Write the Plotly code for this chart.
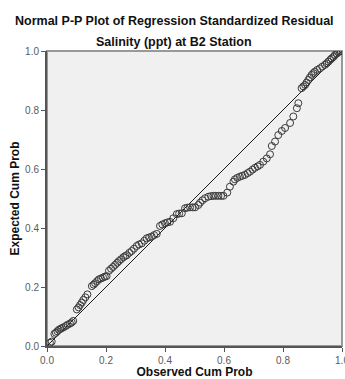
import plotly.graph_objects as go

# Observed cumulative probability (x) and expected cumulative probability (y)
observed_cum_prob = [
    0.010, 0.016, 0.025, 0.030, 0.035, 0.040, 0.046, 0.051, 0.057, 0.064,
    0.070, 0.078, 0.084, 0.089, 0.101, 0.107, 0.112, 0.118, 0.123, 0.130,
    0.137, 0.152, 0.158, 0.163, 0.170, 0.176, 0.183, 0.190, 0.196, 0.202,
    0.210, 0.217, 0.224, 0.231, 0.238, 0.244, 0.251, 0.259, 0.265, 0.271,
    0.279, 0.287, 0.295, 0.304, 0.312, 0.321, 0.330, 0.338, 0.346, 0.355,
    0.363, 0.372, 0.383, 0.391, 0.400, 0.408, 0.417, 0.428, 0.440, 0.448,
    0.457, 0.468, 0.476, 0.485, 0.494, 0.502, 0.513, 0.519, 0.527, 0.536,
    0.547, 0.556, 0.564, 0.572, 0.581, 0.590, 0.598, 0.611, 0.620, 0.632,
    0.637, 0.645, 0.654, 0.662, 0.671, 0.680, 0.688, 0.697, 0.705, 0.714,
    0.722, 0.733, 0.745, 0.756, 0.762, 0.773, 0.784, 0.796, 0.807, 0.824,
    0.835, 0.847, 0.852, 0.863, 0.869, 0.875, 0.880, 0.886, 0.891, 0.897,
    0.903, 0.908, 0.916, 0.925, 0.933, 0.942, 0.948, 0.954, 0.960, 0.965,
    0.971, 0.976, 0.982, 0.987, 0.992, 0.996,
]
expected_cum_prob = [
    0.011, 0.015, 0.041, 0.045, 0.050, 0.055, 0.058, 0.061, 0.064, 0.068,
    0.072, 0.076, 0.080, 0.085, 0.124, 0.131, 0.139, 0.147, 0.156, 0.165,
    0.175, 0.203, 0.208, 0.213, 0.220, 0.226, 0.229, 0.232, 0.235, 0.237,
    0.255, 0.262, 0.268, 0.275, 0.282, 0.288, 0.294, 0.301, 0.305, 0.308,
    0.316, 0.322, 0.330, 0.339, 0.344, 0.348, 0.357, 0.365, 0.368, 0.371,
    0.376, 0.380, 0.407, 0.412, 0.416, 0.419, 0.421, 0.433, 0.447, 0.449,
    0.450, 0.467, 0.469, 0.470, 0.470, 0.470, 0.478, 0.486, 0.494, 0.501,
    0.506, 0.508, 0.509, 0.509, 0.509, 0.509, 0.509, 0.520, 0.540, 0.557,
    0.565, 0.570, 0.574, 0.577, 0.580, 0.586, 0.591, 0.598, 0.604, 0.609,
    0.614, 0.625, 0.636, 0.650, 0.678, 0.693, 0.715, 0.729, 0.739, 0.756,
    0.778, 0.806, 0.823, 0.874, 0.880, 0.885, 0.893, 0.902, 0.910, 0.919,
    0.925, 0.930, 0.936, 0.941, 0.947, 0.953, 0.958, 0.964, 0.970, 0.975,
    0.980, 0.986, 0.991, 0.996, 0.998, 1.000,
]
reference_line = [0.0, 1.0]
tick_values = [0.0, 0.2, 0.4, 0.6, 0.8, 1.0]
tick_labels = ["0.0", "0.2", "0.4", "0.6", "0.8", "1.0"]

title_line1 = "Normal P-P Plot of Regression Standardized Residual"
title_line2 = "Salinity (ppt) at B2 Station"

FONT = "Liberation Sans, Arial, sans-serif"

fig = go.Figure()
fig.add_trace(go.Scatter(
    x=reference_line, y=reference_line, mode="lines",
    line=dict(color="#1a1a1a", width=1), hoverinfo="skip", showlegend=False,
))
fig.add_trace(go.Scatter(
    x=observed_cum_prob, y=expected_cum_prob, mode="markers",
    marker=dict(symbol="circle-open", size=7, color="#3a3a3a", line=dict(width=1, color="#3a3a3a")),
    showlegend=False,
))

axis_common = dict(
    range=[0, 1], tickvals=tick_values, ticktext=tick_labels,
    ticks="outside", ticklen=4, tickwidth=1, tickcolor="#555555",
    showline=True, linecolor="#555555", linewidth=2,
    showgrid=False, zeroline=False, ticklabeloverflow="allow", automargin=False,
    tickfont=dict(family=FONT, size=10, color="#5a5a5a"),
)

fig.update_layout(
    width=345, height=379,
    margin=dict(l=47, r=3, t=51, b=33),
    paper_bgcolor="white", plot_bgcolor="#F0F0F0",
    xaxis=dict(**axis_common,
               title=dict(text="<b>Observed Cum Prob</b>", font=dict(family=FONT, size=12, color="#111111"), standoff=7)),
    yaxis=dict(**axis_common,
               title=dict(text="<b>Expected Cum Prob</b>", font=dict(family=FONT, size=12, color="#111111"), standoff=3)),
    shapes=[dict(type="rect", xref="paper", yref="paper", x0=0, y0=0, x1=1, y1=1,
                 line=dict(color="#999999", width=2), layer="below")],
    annotations=[
        dict(text="<b>" + title_line1 + "</b>", xref="paper", yref="paper", x=0.432, y=1.1027,
             showarrow=False, xanchor="center", yanchor="middle",
             font=dict(family=FONT, size=12.5, color="#111111")),
        dict(text="<b>" + title_line2 + "</b>", xref="paper", yref="paper", x=0.432, y=1.0315,
             showarrow=False, xanchor="center", yanchor="middle",
             font=dict(family=FONT, size=12.5, color="#111111")),
    ],
)

fig.write_html("out.html")
